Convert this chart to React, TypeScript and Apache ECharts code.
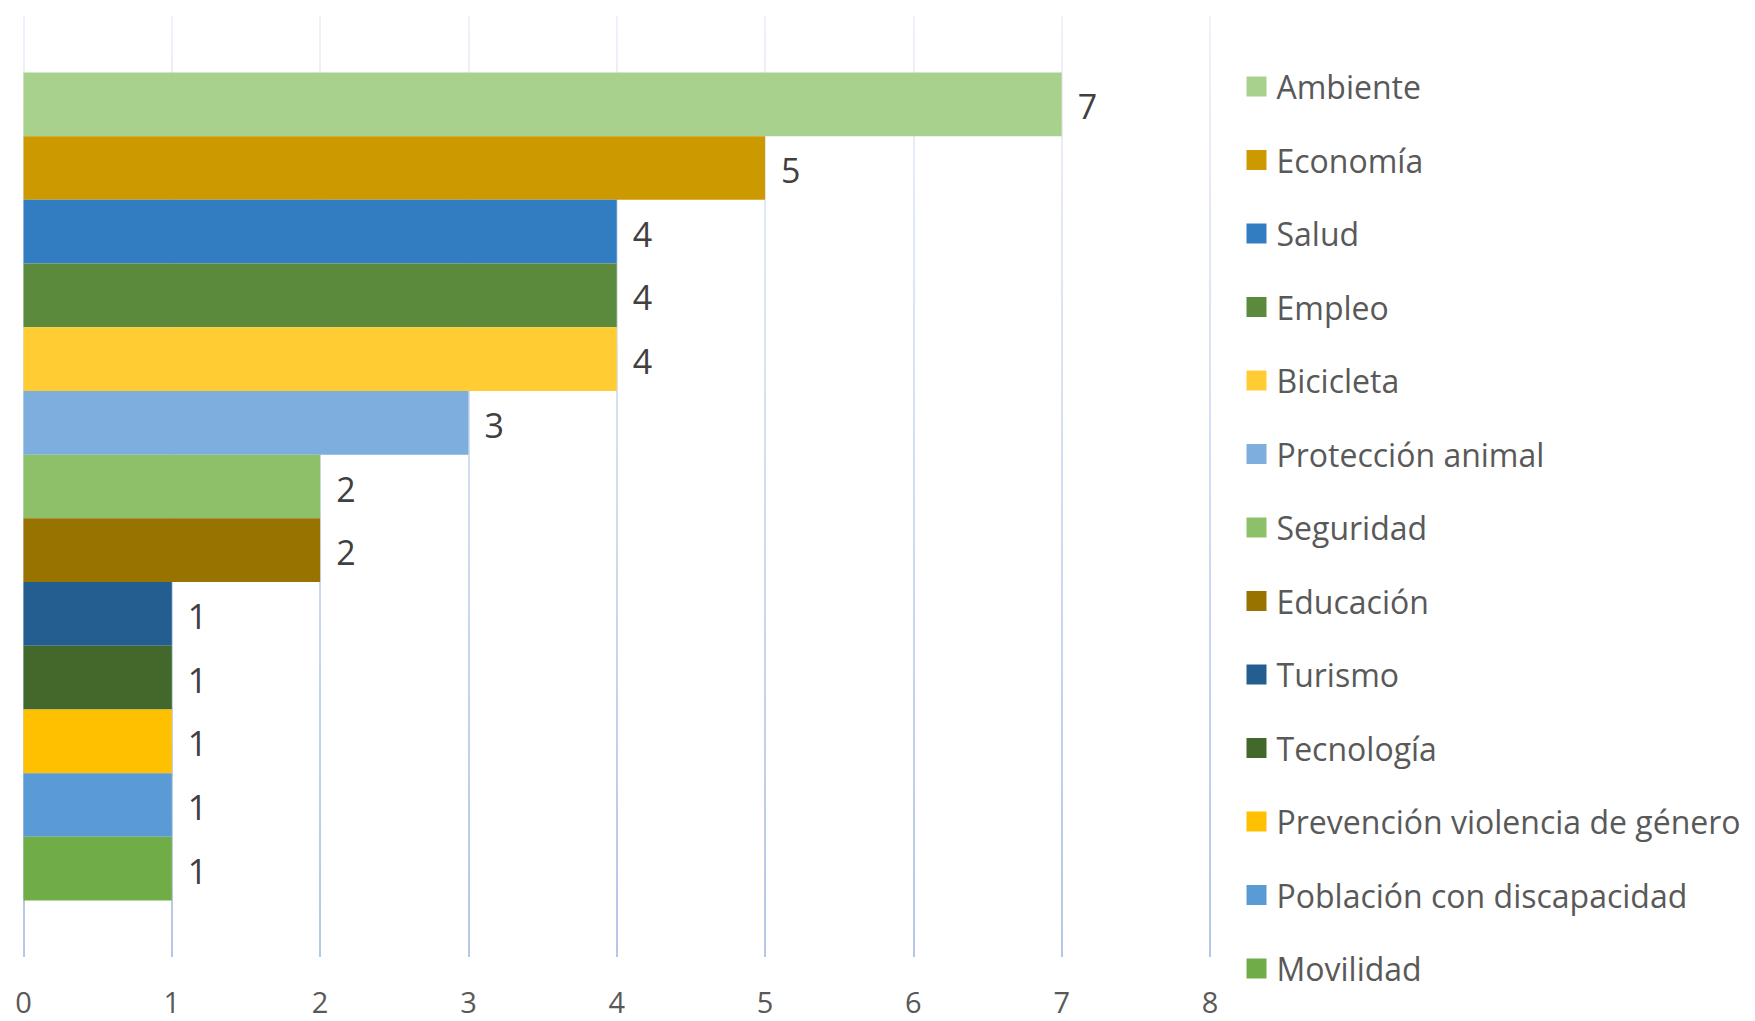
import React, { useEffect, useRef } from "react";
import * as echarts from "echarts";

const categoryLabel = [""];
const seriesNames = [
  "Ambiente",
  "Economía",
  "Salud",
  "Empleo",
  "Bicicleta",
  "Protección animal",
  "Seguridad",
  "Educación",
  "Turismo",
  "Tecnología",
  "Prevención violencia de género",
  "Población con discapacidad",
  "Movilidad",
];
const seriesValues = [7, 5, 4, 4, 4, 3, 2, 2, 1, 1, 1, 1, 1];
const seriesColors = [
  "#A9D18E",
  "#CC9900",
  "#327DC2",
  "#5B8A3C",
  "#FFCC33",
  "#7DAEDD",
  "#8DC068",
  "#997300",
  "#245E90",
  "#43682B",
  "#FFC000",
  "#5B9BD5",
  "#70AD47",
];
const xTicks = [0, 1, 2, 3, 4, 5, 6, 7, 8];

export default function App() {
  const ref = useRef<HTMLDivElement>(null);
  useEffect(() => {
    document.body.style.margin = "0";
    const chart = echarts.init(ref.current!, null, { renderer: "svg" });
    const font = "'Open Sans', sans-serif";
    const series = seriesNames.map((name, i) => ({
      name,
      type: "bar",
      data: [seriesValues[i]],
      barGap: "0%",
      barCategoryGap: "12%",
      itemStyle: { color: seriesColors[i] },
      label: {
        show: true,
        position: "right",
        distance: 16,
        color: "#404040",
        fontSize: 34,
        fontFamily: font,
        offset: [0, 2],
      },
    }));
    chart.setOption({
      animation: false,
      backgroundColor: "#ffffff",
      grid: { left: 23.5, right: 545, top: 16, bottom: 64, containLabel: false },
      legend: {
        orient: "vertical",
        left: 1241.5,
        top: 63.5,
        icon: "rect",
        itemWidth: 20,
        itemHeight: 20,
        itemGap: 37.5,
        data: seriesNames,
        textStyle: {
          fontSize: 32,
          lineHeight: 36,
          color: "#595959",
          fontFamily: font,
          padding: [0, 0, 0, 5],
        },
      },
      xAxis: {
        type: "value",
        min: xTicks[0],
        max: xTicks[xTicks.length - 1],
        interval: 1,
        axisLine: { show: false },
        axisTick: { show: false },
        axisLabel: {
          margin: 32,
          fontSize: 29,
          lineHeight: 24,
          color: "#595959",
          fontFamily: font,
        },
        splitLine: {
          show: true,
          lineStyle: {
            width: 2,
            color: new echarts.graphic.LinearGradient(
              0,
              16,
              0,
              957,
              [
                { offset: 0, color: "#EEF2FA" },
                { offset: 1, color: "#B4C7E7" },
              ],
              true
            ),
          },
        },
      },
      yAxis: {
        type: "category",
        data: categoryLabel,
        inverse: true,
        axisLine: { show: false },
        axisTick: { show: false },
        axisLabel: { show: false },
        splitLine: { show: false },
      },
      series,
    });
    return () => chart.dispose();
  }, []);
  return (
    <div
      ref={ref}
      style={{ position: "absolute", left: 0, top: 0, width: 1755, height: 1021 }}
    />
  );
}
